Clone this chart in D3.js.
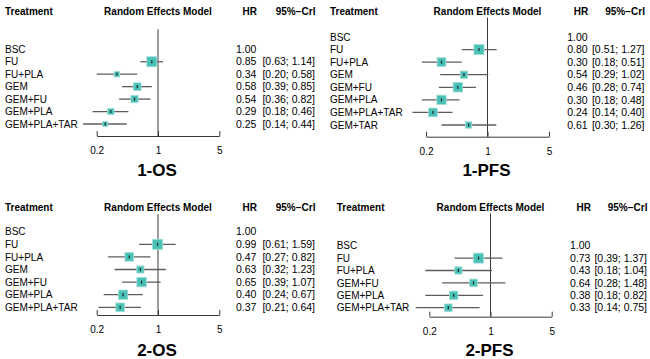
<!DOCTYPE html>
<html><head><meta charset="utf-8">
<script src="https://cdn.jsdelivr.net/npm/d3@7"></script>
<style>html,body{margin:0;padding:0;background:#fff;}svg{display:block;}</style>
</head><body>
<svg id="chart" width="650" height="359"></svg>
<script>
// ---------- DATA ----------
const panelTitles = ["1-OS", "1-PFS", "2-OS", "2-PFS"];
const tickValues = [0.2, 1, 5];
const tickLabels = ["0.2", "1", "5"];
const headerLabels = ["Treatment", "Random Effects Model", "HR", "95%\u2212CrI"];

const os1Treat = ["BSC", "FU", "FU+PLA", "GEM", "GEM+FU", "GEM+PLA", "GEM+PLA+TAR"];
const os1HR = [1.00, 0.85, 0.34, 0.58, 0.54, 0.29, 0.25];
const os1Lo = [null, 0.63, 0.20, 0.39, 0.36, 0.18, 0.14];
const os1Hi = [null, 1.14, 0.58, 0.85, 0.82, 0.46, 0.44];

const pfs1Treat = ["BSC", "FU", "FU+PLA", "GEM", "GEM+FU", "GEM+PLA", "GEM+PLA+TAR", "GEM+TAR"];
const pfs1HR = [1.00, 0.80, 0.30, 0.54, 0.46, 0.30, 0.24, 0.61];
const pfs1Lo = [null, 0.51, 0.18, 0.29, 0.28, 0.18, 0.14, 0.30];
const pfs1Hi = [null, 1.27, 0.51, 1.02, 0.74, 0.48, 0.40, 1.26];

const os2Treat = ["BSC", "FU", "FU+PLA", "GEM", "GEM+FU", "GEM+PLA", "GEM+PLA+TAR"];
const os2HR = [1.00, 0.99, 0.47, 0.63, 0.65, 0.40, 0.37];
const os2Lo = [null, 0.61, 0.27, 0.32, 0.39, 0.24, 0.21];
const os2Hi = [null, 1.59, 0.82, 1.23, 1.07, 0.67, 0.64];

const pfs2Treat = ["BSC", "FU", "FU+PLA", "GEM+FU", "GEM+PLA", "GEM+PLA+TAR"];
const pfs2HR = [1.00, 0.73, 0.43, 0.64, 0.38, 0.33];
const pfs2Lo = [null, 0.39, 0.18, 0.28, 0.18, 0.14];
const pfs2Hi = [null, 1.37, 1.04, 1.48, 0.82, 0.75];

// ---------- LAYOUT ----------
const layouts = [
  {labelX: 5,     xL: 96.7,  xR: 219.3, row0: 49.3,  rowN: 124,   axisY: 136,   lineTop: 29.3,  headY: 11,    hrX: 236,   criR: 315,   titleY: 170},
  {labelX: 330,   xL: 426,   xR: 549,   row0: 37,    rowN: 125,   axisY: 136.7, lineTop: 17.5,  headY: 11,    hrX: 567.2, criR: 644.5, titleY: 170},
  {labelX: 5,     xL: 96.7,  xR: 219.3, row0: 231.7, rowN: 307.3, axisY: 315,   lineTop: 214.3, headY: 207.5, hrX: 236,   criR: 315,   titleY: 350},
  {labelX: 336.7, xL: 429.3, xR: 551.7, row0: 245.7, rowN: 307.7, axisY: 316.7, lineTop: 213.3, headY: 207.5, hrX: 570,   criR: 647,   titleY: 350}
];
const panelData = [
  {treat: os1Treat, hr: os1HR, lo: os1Lo, hi: os1Hi},
  {treat: pfs1Treat, hr: pfs1HR, lo: pfs1Lo, hi: pfs1Hi},
  {treat: os2Treat, hr: os2HR, lo: os2Lo, hi: os2Hi},
  {treat: pfs2Treat, hr: pfs2HR, lo: pfs2Lo, hi: pfs2Hi}
];

const FONT = "'Liberation Sans', Arial, Helvetica, sans-serif";
const svg = d3.select("#chart");
svg.append("rect").attr("width", 650).attr("height", 359).attr("fill", "#fff");

const fmt = d3.format(".2f");

panelData.forEach((pd, pi) => {
  const L = layouts[pi];
  const g = svg.append("g").attr("font-family", FONT);
  const rows = pd.treat.map((t, i) => ({t, hr: pd.hr[i], lo: pd.lo[i], hi: pd.hi[i]}));

  const x = d3.scaleLog().domain([0.2, 5]).range([L.xL, L.xR]);
  const y = d3.scalePoint().domain(pd.treat).range([L.row0, L.rowN]);
  const prec = r => (r.lo == null ? 0 : 1 / Math.log(r.hi / r.lo));
  const size = d3.scaleLinear().domain([0, d3.max(rows, prec)]).range([0, 10]);

  // headers
  const hy = L.headY + 3.6;
  g.append("text").attr("x", L.labelX).attr("y", hy).attr("font-size", 10).attr("font-weight", "bold").text(headerLabels[0]);
  g.append("text").attr("x", (L.xL + L.xR) / 2).attr("y", hy).attr("text-anchor", "middle").attr("font-size", 10).attr("font-weight", "bold").text(headerLabels[1]);
  g.append("text").attr("x", L.hrX + 21).attr("y", hy).attr("text-anchor", "end").attr("font-size", 10).attr("font-weight", "bold").text(headerLabels[2]);
  g.append("text").attr("x", L.criR + 0.5).attr("y", hy).attr("text-anchor", "end").attr("font-size", 10).attr("font-weight", "bold").text(headerLabels[3]);

  // reference line at HR = 1
  g.append("line").attr("x1", x(1)).attr("x2", x(1)).attr("y1", L.lineTop).attr("y2", L.axisY)
    .attr("stroke", "#3a3a3a").attr("stroke-width", 1);

  // axis
  const axis = d3.axisBottom(x).tickValues(tickValues)
    .tickFormat((d, i) => tickLabels[i]).tickSizeInner(-5).tickSizeOuter(0).tickPadding(11.2);
  const ag = g.append("g").attr("transform", `translate(0,${L.axisY})`).call(axis);
  ag.select(".domain").attr("stroke", "#3a3a3a");
  ag.selectAll(".tick line").attr("stroke", "#3a3a3a");
  ag.selectAll(".tick text").attr("font-family", FONT).attr("font-size", 10).attr("fill", "#000");

  // title
  g.append("text").attr("x", (L.xL + L.xR) / 2 - 1).attr("y", L.titleY + 6).attr("text-anchor", "middle")
    .attr("font-size", 17).attr("font-weight", "bold").text(panelTitles[pi]);

  // rows
  rows.forEach(r => {
    const yy = y(r.t);
    g.append("text").attr("x", L.labelX).attr("y", yy + 3.6).attr("font-size", 10).attr("fill", "#000").text(r.t);
    g.append("text").attr("x", L.hrX).attr("y", yy + 3.7).attr("font-size", 10.5).attr("fill", "#000").text(fmt(r.hr));
    if (r.lo != null) {
      g.append("text").attr("x", L.criR).attr("y", yy + 3.7).attr("text-anchor", "end").attr("font-size", 10.5)
        .attr("fill", "#000").text(`[${fmt(r.lo)}; ${fmt(r.hi)}]`);
      g.append("line").attr("x1", x(r.lo)).attr("x2", x(r.hi)).attr("y1", yy).attr("y2", yy)
        .attr("stroke", "#5c5c5c").attr("stroke-width", 1.3);
      const s = size(prec(r));
      g.append("rect").attr("x", x(r.hr) - s / 2).attr("y", yy - s / 2).attr("width", s).attr("height", s)
        .attr("fill", "#48c2b6").attr("stroke", "#a3ddd7").attr("stroke-width", 0.8);
      g.append("rect").attr("x", x(r.hr) - 0.6).attr("y", yy - 1.5).attr("width", 1.2).attr("height", 3)
        .attr("fill", "#222");
    }
  });
});
</script>
</body></html>
